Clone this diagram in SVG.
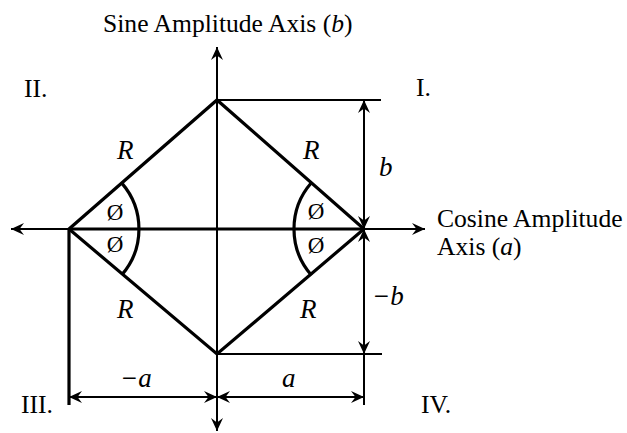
<svg xmlns="http://www.w3.org/2000/svg" width="627" height="433" viewBox="0 0 627 433">
  <style>
    .ln { stroke: #000; fill: none; stroke-width: 2; }
    .thick { stroke: #000; fill: none; stroke-width: 3.2; }
    .lbl { font-family: "Liberation Serif", "Times New Roman", serif; font-size: 25.6px; fill: #000; }
    .math { font-family: "Liberation Serif", "Times New Roman", serif; font-style: italic; font-size: 27px; fill: #000; }
    .phi { font-family: "Liberation Serif", "Times New Roman", serif; font-size: 23px; fill: #000; }
  </style>
  <defs>
    <marker id="arr" viewBox="-14 -7 14 14" refX="0" refY="0" markerWidth="14" markerHeight="14" markerUnits="userSpaceOnUse" orient="auto-start-reverse">
      <path d="M0,0 L-13,-6 L-8.5,0 L-13,6 Z" fill="#000"/>
    </marker>
  </defs>

  <g id="connectors">
    <!-- axes -->
    <line class="ln" x1="217" y1="47" x2="217" y2="431" marker-start="url(#arr)" marker-end="url(#arr)"/>
    <line class="ln" x1="11" y1="229" x2="425" y2="229" marker-start="url(#arr)" marker-end="url(#arr)"/>
    <line class="thick" x1="69" y1="229" x2="364" y2="229" stroke-width="3.6"/>
    <!-- diamond -->
    <polygon class="thick" points="69,229 217,100 364,229 217,354" stroke-linejoin="miter"/>
    <!-- extension lines -->
    <line class="ln" x1="217" y1="100" x2="381" y2="100"/>
    <line class="ln" x1="217" y1="354" x2="382" y2="354"/>
    <line class="thick" x1="69" y1="229" x2="69" y2="405"/>
    <!-- right dimension line -->
    <line class="ln" x1="364" y1="229" x2="364" y2="100" marker-start="url(#arr)" marker-end="url(#arr)"/>
    <line class="ln" x1="364" y1="229" x2="364" y2="354" marker-start="url(#arr)" marker-end="url(#arr)"/>
    <line class="ln" x1="364" y1="354" x2="364" y2="405"/>
    <!-- bottom dimension lines -->
    <line class="ln" x1="69" y1="397" x2="217" y2="397" marker-start="url(#arr)" marker-end="url(#arr)"/>
    <line class="ln" x1="217" y1="397" x2="364" y2="397" marker-start="url(#arr)" marker-end="url(#arr)"/>
    <!-- angle arcs -->
    <path class="thick" d="M121.8,183.1 A70,70 0 0,1 121.8,274.9"/>
    <path class="thick" d="M311.4,182.8 A70,70 0 0,0 311.4,275.2"/>
  </g>

  <g id="axis-labels">
    <text class="lbl" x="103" y="32">Sine Amplitude Axis (<tspan font-style="italic">b</tspan>)</text>
    <text class="lbl" x="437" y="227">Cosine Amplitude</text>
    <text class="lbl" x="437" y="255">Axis (<tspan font-style="italic">a</tspan>)</text>
  </g>

  <g id="quadrants">
    <text class="lbl" x="24" y="97">II.</text>
    <text class="lbl" x="416" y="96">I.</text>
    <text class="lbl" x="21" y="413">III.</text>
    <text class="lbl" x="421" y="413">IV.</text>
  </g>

  <g id="radius-labels">
    <text class="math" x="117" y="159">R</text>
    <text class="math" x="303" y="159">R</text>
    <text class="math" x="117" y="318">R</text>
    <text class="math" x="300" y="318">R</text>
  </g>

  <g id="angle-labels">
    <text class="phi" x="115" y="220" text-anchor="middle">Ø</text>
    <text class="phi" x="115" y="252" text-anchor="middle">Ø</text>
    <text class="phi" x="316" y="219" text-anchor="middle">Ø</text>
    <text class="phi" x="316" y="253" text-anchor="middle">Ø</text>
  </g>

  <g id="dimension-labels">
    <text class="math" x="379" y="176">b</text>
    <text class="math" x="372" y="305">−b</text>
    <text class="math" x="120" y="387">−a</text>
    <text class="math" x="282" y="387">a</text>
  </g>
</svg>
